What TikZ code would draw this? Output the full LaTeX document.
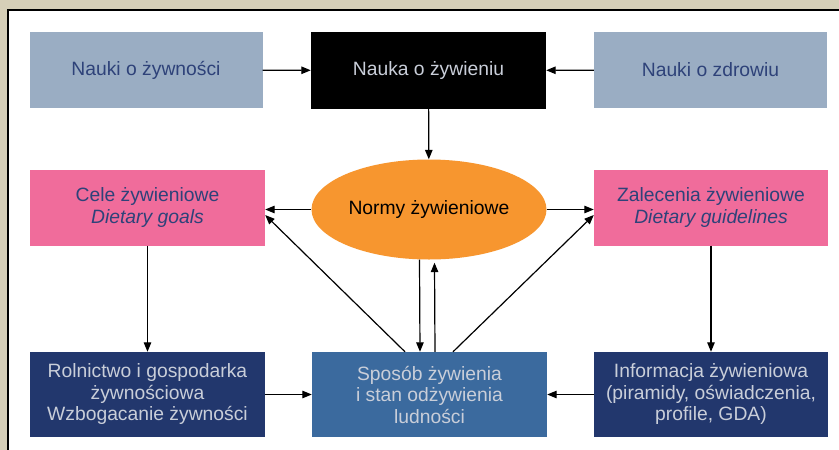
\documentclass[tikz,border=0pt]{standalone}
\usepackage{fontspec}
\setmainfont{Liberation Sans}
\usetikzlibrary{shapes.geometric,arrows.meta}
\definecolor{beige}{HTML}{D6CFB8}
\definecolor{grayblue}{HTML}{9AADC3}
\definecolor{pinkbox}{HTML}{F06C9B}
\definecolor{orangeell}{HTML}{F7962F}
\definecolor{navybox}{HTML}{22376D}
\definecolor{steelbox}{HTML}{3B6A9E}
\definecolor{lighttext}{HTML}{C9CED9}
\definecolor{darktext}{HTML}{2E4279}
\begin{document}
\begin{tikzpicture}[x=1pt,y=-1pt,
  every node/.style={font=\fontsize{19.3}{21.5}\selectfont, align=center, inner sep=0pt},
  boxtop/.style={rectangle, minimum width=233pt, minimum height=76pt},
  boxbot/.style={rectangle, minimum width=235pt, minimum height=85pt, fill=navybox, text=lighttext},
  arr/.style={-{Triangle[length=9.5pt,width=7.5pt]}, line width=1.2pt, black}]
\useasboundingbox (0,0) rectangle (839,450);
\fill[beige] (0,0) rectangle (839,450);
\fill[white] (8,10) rectangle (839,450);
\draw[line width=1.3pt] (8,450) -- (8,10) -- (839,10);

\node[boxtop, fill=grayblue, text=darktext] (a) at (146,70) {Nauki o żywności};
\node[boxtop, minimum width=235pt, minimum height=77pt, fill=black, text=lighttext] (b) at (428.5,70.5) {Nauka o żywieniu};
\node[boxtop, fill=grayblue, text=darktext] (c) at (710.5,70) {Nauki o zdrowiu};

\node[boxtop, minimum width=235pt, fill=pinkbox, text=darktext] (d) at (147.5,207.5) {Cele żywieniowe\\\textit{Dietary goals}};
\node[ellipse, minimum width=235pt, minimum height=100pt, fill=orangeell, text=black] (e) at (429,209.5) {Normy żywieniowe};
\node[boxtop, minimum width=234pt, fill=pinkbox, text=darktext] (f) at (711,207.5) {Zalecenia żywieniowe\\\textit{Dietary guidelines}};

\node[boxbot] (g) at (147.5,394.5) {Rolnictwo i gospodarka\\żywnościowa\\Wzbogacanie żywności};
\node[boxbot, fill=steelbox] (h) at (429.5,394.5) {Sposób żywienia\\i stan odżywienia\\ludności};
\node[boxbot, minimum width=234pt] (i) at (711,394.5) {Informacja żywieniowa\\(piramidy, oświadczenia,\\profile, GDA)};

\draw[arr] (a) -- (b);
\draw[arr] (c) -- (b);
\draw[arr] (b) -- (e);
\draw[arr] (e.west) -- (e.west -| d.east);
\draw[arr] (e.east) -- (e.east -| f.west);
\draw[arr] ([xshift=-24.5pt]h.north) -- ([yshift=-7.5pt]d.east);
\draw[arr] ([xshift=23.5pt]h.north) -- ([yshift=-7.5pt]f.west);
\draw[arr] ([xshift=-9.5pt]e.south) -- ([xshift=-9.5pt]h.north);
\draw[arr] ([xshift=5.5pt]h.north) -- ([xshift=5.5pt,yshift=-3pt]e.south);
\draw[arr] (d) -- (g);
\draw[arr] (f) -- (i);
\draw[arr] (g) -- (h);
\draw[arr] (i) -- (h);
\end{tikzpicture}
\end{document}
